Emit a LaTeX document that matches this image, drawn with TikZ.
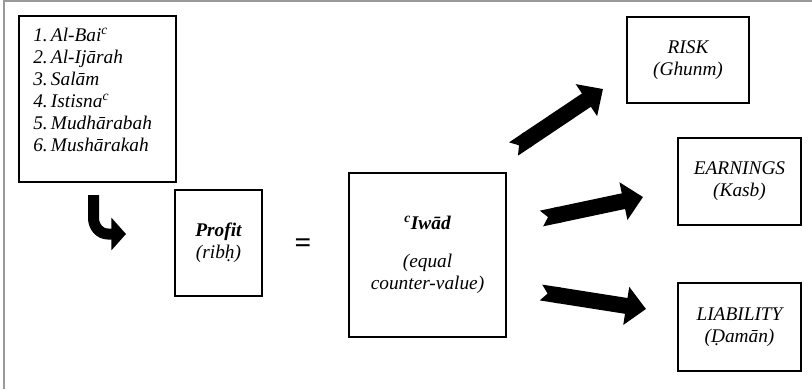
\documentclass[tikz,border=0pt]{standalone}
\usepackage{fontspec}
\setmainfont{Liberation Serif}
\usetikzlibrary{arrows.meta}

\tikzset{
  box/.style={draw, line width=1.4pt, inner sep=0pt, align=center, font=\fontsize{14.5}{16.6}\selectfont\itshape},
  fat arrow/.style={line width=12pt, {Triangle Cap[reversed,length=5pt]}-{Triangle[width=28pt,length=15pt]}},
}

\begin{document}
\begin{tikzpicture}[x=0.75pt, y=-0.75pt]
\path[use as bounding box] (0,0) rectangle (812,389);
\draw[black!40, line width=1.5pt] (4,389) -- (4,1) -- (812,1);

% the six contracts
\node[box, minimum width=117.75pt, minimum height=124.5pt] (contracts) at (97.5,99) {};
\node[anchor=north west, align=left, inner sep=0pt, font=\fontsize{14.5}{16.4}\selectfont\itshape] (names) at (33,28) {1.\,Al-Bai\textsuperscript{c}\\
2.\,Al-Ijārah\\
3.\,Salām\\
4.\,Istisna\textsuperscript{c}\\
5.\,Mudhārabah\\
6.\,Mushārakah};

\draw[line width=8.25pt, -{Triangle[width=24pt,length=11pt]}] (93.5,195) -- (93.5,218) to[out=-90,in=180] (108,234) -- (126,234);

\node[box, minimum width=65.25pt, minimum height=79.5pt] (profit) at (218.5,243) {\textbf{Profit}\\(ribḥ)};
\node[font=\fontsize{22}{22}\selectfont\bfseries] (equals) at (303,246) {=};
\node[box, minimum width=117.75pt, minimum height=123pt] (iwad) at (427.5,255) {\textbf{\textsuperscript{c}Iwād}\\[12pt](equal\\counter-value)};

\node[box, minimum width=91.5pt, minimum height=64.5pt] (risk) at (688,60) {RISK\\(Ghunm)};
\node[box, minimum width=92.25pt, minimum height=65.25pt] (earnings) at (739.5,181.5) {EARNINGS\\(Kasb)};
\node[box, minimum width=92.25pt, minimum height=66pt] (liability) at (739.5,327) {LIABILITY\\(Ḍamān)};

% block arrows
\coordinate (t1) at (513.5,149);
\coordinate (h1) at (603,89);
\coordinate (t2) at (541.5,218.5);
\coordinate (h2) at (643,197);
\coordinate (t3) at (541,292.5);
\coordinate (h3) at (646,309);
\draw[fat arrow] (t1) -- (h1);
\draw[fat arrow] (t2) -- (h2);
\draw[fat arrow] (t3) -- (h3);
\end{tikzpicture}
\end{document}
